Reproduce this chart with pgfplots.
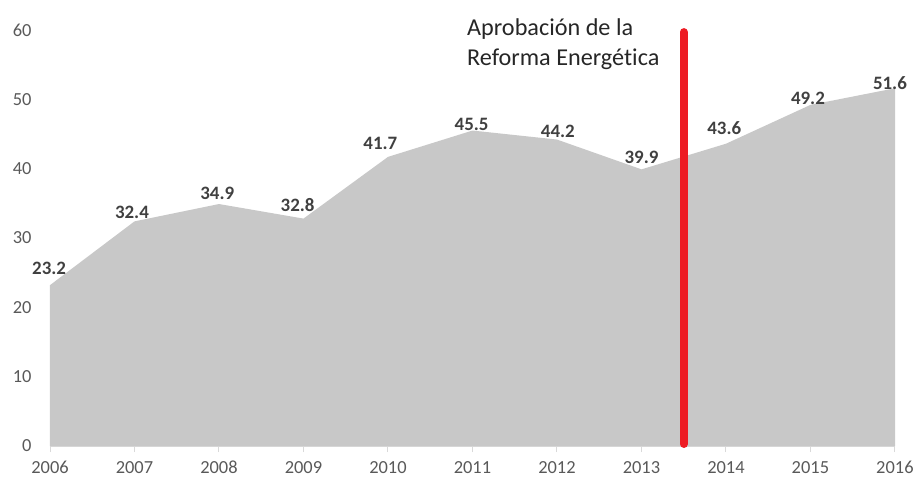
\documentclass[border=0pt]{standalone}
\usepackage{pgfplots}
\pgfplotsset{compat=1.18}
\usepackage{fontspec}
\setmainfont{Carlito}[Ligatures={NoCommon}]
\definecolor{areagray}{RGB}{200,200,200}
\definecolor{tickgray}{RGB}{89,89,89}
\definecolor{labgray}{RGB}{64,64,64}
\definecolor{axgray}{RGB}{217,217,217}
\definecolor{redline}{RGB}{237,28,36}
\begin{document}
\begin{tikzpicture}
\begin{axis}[
  scale only axis,
  width=845bp, height=416bp,
  xmin=2006, xmax=2016, ymin=0, ymax=60,
  axis x line*=bottom,
  axis y line*=left,
  x axis line style={draw=axgray, line width=1pt, -},
  y axis line style={draw=none},
  xtick={2006,...,2016},
  ytick={0,10,...,60},
  xtick style={draw=axgray, line width=1pt},
  ytick style={draw=none},
  tick align=outside,
  major tick length=6bp,
  xticklabel style={font=\fontsize{18.5}{22}\selectfont, text=tickgray, inner sep=0pt, text height=12.5bp, text depth=0pt, yshift=-8.5bp, /pgf/number format/1000 sep={}},
  yticklabel style={font=\fontsize{18.5}{22}\selectfont, text=tickgray, xshift=-9bp},
  /pgf/number format/assume math mode=true,
  clip=false,
]
\addplot[fill=areagray, draw=none] coordinates {
(2006,23.2) (2007,32.4) (2008,34.9) (2009,32.8) (2010,41.7) (2011,45.5)
(2012,44.2) (2013,39.9) (2014,43.6) (2015,49.2) (2016,51.6)
} \closedcycle;
% data labels (positions of label centres as in the reference)
\addplot[draw=none, mark=none,
  nodes near coords, point meta=explicit symbolic,
  nodes near coords style={font=\bfseries\fontsize{19}{22}\selectfont, text=labgray, anchor=center, inner sep=0pt},
] table[meta=lab] {
x y lab
2005.99 25.67 23.2
2006.97 33.75 32.4
2007.98 36.49 34.9
2008.93 34.76 32.8
2009.91 43.70 41.7
2010.99 46.44 45.5
2012.01 45.43 44.2
2013.00 41.68 39.9
2013.98 45.87 43.6
2014.97 50.20 49.2
2015.94 52.36 51.6
};
\draw[redline, line width=8bp, line cap=round] (axis cs:2013.5,0.29) -- (axis cs:2013.5,59.7);
\node[anchor=base west, inner sep=0pt, font=\fontsize{24.3}{30}\selectfont, text=black!85]
  at (axis cs:2010.935,59.2) {Aprobación de la};
\node[anchor=base west, inner sep=0pt, font=\fontsize{24.3}{30}\selectfont, text=black!85]
  at (axis cs:2010.935,54.9) {Reforma Energética};
\end{axis}
\pgfresetboundingbox
\path[use as bounding box] (-50bp,-33bp) rectangle (869bp,446bp);
\end{tikzpicture}
\end{document}
